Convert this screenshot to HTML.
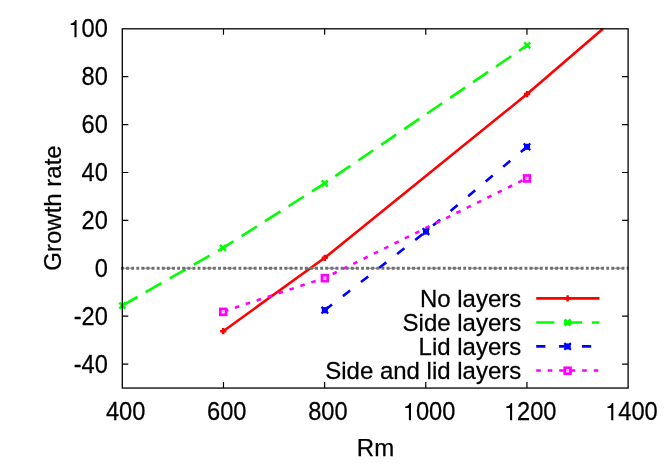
<!DOCTYPE html>
<html><head><meta charset="utf-8"><title>Growth rate vs Rm</title>
<style>
html,body{margin:0;padding:0;background:#fff;}
body{width:664px;height:465px;overflow:hidden;}
svg{display:block;will-change:transform;}
text{font-family:"Liberation Sans",sans-serif;font-size:24px;fill:#000;stroke:#000;stroke-width:0.25px;}
</style></head><body>
<svg width="664" height="465" viewBox="0 0 664 465">
<rect x="0" y="0" width="664" height="465" fill="#fff"/>
<path d="M223.46 28.8v6M223.46 388.05v-6M324.62 28.8v6M324.62 388.05v-6M425.78 28.8v6M425.78 388.05v-6M526.94 28.8v6M526.94 388.05v-6M122.3 364.10h6M628.1 364.10h-6M122.3 316.20h6M628.1 316.20h-6M122.3 220.40h6M628.1 220.40h-6M122.3 172.50h6M628.1 172.50h-6M122.3 124.60h6M628.1 124.60h-6M122.3 76.70h6M628.1 76.70h-6" stroke="#000" stroke-width="1.2" fill="none"/>
<polyline points="223.2,331.2 324.8,257.8 527.1,94.1 603.0,28.8" fill="none" stroke="#f00" stroke-width="2.6" stroke-linejoin="round"/>
<polyline points="122.3,305.6 223.0,247.9 324.7,183.3 527.2,45.3" fill="none" stroke="#0f0" stroke-width="2.6" stroke-dasharray="18.2 9.6" stroke-dashoffset="0.9"/>
<polyline points="324.8,310.2 425.9,231.6 527.0,146.8" fill="none" stroke="#00f" stroke-width="2.6" stroke-dasharray="9.2 13.7" stroke-dashoffset="0"/>
<polyline points="223.2,311.6 324.8,277.9 527.0,178.2" fill="none" stroke="#f0f" stroke-width="2.6" stroke-dasharray="4.6 6.9" stroke-dashoffset="10.7"/>
<path d="M220.1 331.2H226.3M223.2 328.1V334.3" stroke="#f00" stroke-width="2.5" fill="none"/>
<path d="M321.7 257.8H327.9M324.8 254.7V260.9" stroke="#f00" stroke-width="2.5" fill="none"/>
<path d="M524.0 94.1H530.2M527.1 91.0V97.2" stroke="#f00" stroke-width="2.5" fill="none"/>
<path d="M119.3 302.6L125.3 308.6M119.3 308.6L125.3 302.6" stroke="#0f0" stroke-width="2.5" fill="none"/>
<path d="M220.0 244.9L226.0 250.9M220.0 250.9L226.0 244.9" stroke="#0f0" stroke-width="2.5" fill="none"/>
<path d="M321.7 180.3L327.7 186.3M321.7 186.3L327.7 180.3" stroke="#0f0" stroke-width="2.5" fill="none"/>
<path d="M524.2 42.3L530.2 48.3M524.2 48.3L530.2 42.3" stroke="#0f0" stroke-width="2.5" fill="none"/>
<path d="M321.8 310.2H327.8M324.8 307.2V313.2" stroke="#00f" stroke-width="3.6" fill="none"/><path d="M321.5 306.9L328.1 313.5M321.5 313.5L328.1 306.9" stroke="#00f" stroke-width="2.2" fill="none"/><circle cx="324.8" cy="310.2" r="2.7" fill="#00f"/>
<path d="M422.9 231.6H428.9M425.9 228.6V234.6" stroke="#00f" stroke-width="3.6" fill="none"/><path d="M422.6 228.3L429.2 234.9M422.6 234.9L429.2 228.3" stroke="#00f" stroke-width="2.2" fill="none"/><circle cx="425.9" cy="231.6" r="2.7" fill="#00f"/>
<path d="M524.0 146.8H530.0M527.0 143.8V149.8" stroke="#00f" stroke-width="3.6" fill="none"/><path d="M523.7 143.5L530.3 150.1M523.7 150.1L530.3 143.5" stroke="#00f" stroke-width="2.2" fill="none"/><circle cx="527.0" cy="146.8" r="2.7" fill="#00f"/>
<rect x="220.35" y="308.90" width="5.7" height="5.9" stroke="#f0f" stroke-width="2.7" fill="#fff"/><rect x="222.2" y="311.1" width="2" height="1.2" fill="#f0f" opacity="0.5"/>
<rect x="321.95" y="275.20" width="5.7" height="5.9" stroke="#f0f" stroke-width="2.7" fill="#fff"/><rect x="323.8" y="277.4" width="2" height="1.2" fill="#f0f" opacity="0.5"/>
<rect x="524.15" y="175.50" width="5.7" height="5.9" stroke="#f0f" stroke-width="2.7" fill="#fff"/><rect x="526.0" y="177.7" width="2" height="1.2" fill="#f0f" opacity="0.5"/>
<line x1="120.8" y1="268.2" x2="628.1" y2="268.2" stroke="#808080" stroke-width="1" stroke-dasharray="12 8.43"/>
<line x1="120.8" y1="268.2" x2="628.1" y2="268.2" stroke="#6e6e6e" stroke-width="3" stroke-dasharray="2.85 2.258" stroke-dashoffset="4.89"/>
<rect x="122.3" y="28.8" width="505.80" height="359.25" fill="none" stroke="#000" stroke-width="1.3"/>
<text transform="translate(107.8,372.7) scale(0.985,1.045)" text-anchor="end">-40</text>
<text transform="translate(107.8,324.8) scale(0.985,1.045)" text-anchor="end">-20</text>
<text transform="translate(107.8,276.9) scale(0.985,1.045)" text-anchor="end">0</text>
<text transform="translate(107.8,229.0) scale(0.985,1.045)" text-anchor="end">20</text>
<text transform="translate(107.8,181.1) scale(0.985,1.045)" text-anchor="end">40</text>
<text transform="translate(107.8,133.2) scale(0.985,1.045)" text-anchor="end">60</text>
<text transform="translate(107.8,85.2) scale(0.985,1.045)" text-anchor="end">80</text>
<text transform="translate(107.8,37.4) scale(0.985,1.045)" text-anchor="end">100</text>
<rect x="68.56" y="17.85" width="12.45" height="21" fill="#fff"/><path transform="translate(68.36,37.35) scale(0.0236,-0.0243)" d="M259 0L259 505L102 505L102 568C184 578 262 603 290 709L347 709L347 0Z" fill="#000"/>
<text transform="translate(125.6,420.2) scale(0.985,1.045)" text-anchor="middle">400</text>
<text transform="translate(226.8,420.2) scale(0.985,1.045)" text-anchor="middle">600</text>
<text transform="translate(327.9,420.2) scale(0.985,1.045)" text-anchor="middle">800</text>
<text transform="translate(429.1,420.2) scale(0.985,1.045)" text-anchor="middle">1000</text>
<rect x="402.99" y="400.70" width="12.45" height="21" fill="#fff"/><path transform="translate(402.79,420.20) scale(0.0236,-0.0243)" d="M259 0L259 505L102 505L102 568C184 578 262 603 290 709L347 709L347 0Z" fill="#000"/>
<text transform="translate(530.2,420.2) scale(0.985,1.045)" text-anchor="middle">1200</text>
<rect x="504.15" y="400.70" width="12.45" height="21" fill="#fff"/><path transform="translate(503.95,420.20) scale(0.0236,-0.0243)" d="M259 0L259 505L102 505L102 568C184 578 262 603 290 709L347 709L347 0Z" fill="#000"/>
<text transform="translate(631.4,420.2) scale(0.985,1.045)" text-anchor="middle">1400</text>
<rect x="605.31" y="400.70" width="12.45" height="21" fill="#fff"/><path transform="translate(605.11,420.20) scale(0.0236,-0.0243)" d="M259 0L259 505L102 505L102 568C184 578 262 603 290 709L347 709L347 0Z" fill="#000"/>
<text transform="translate(375.5,455.7) scale(1.0,1.0)" text-anchor="middle">Rm</text>
<text transform="translate(60.8,208) rotate(-90) scale(1.0,1.03)" text-anchor="middle">Growth rate</text>
<text transform="translate(521.3,306.6) scale(1.0,1.03)" text-anchor="end">No layers</text>
<line x1="536.2" y1="298.4" x2="599.5" y2="298.4" stroke="#f00" stroke-width="2.6"/>
<path d="M564.5 298.4H570.7M567.6 295.3V301.5" stroke="#f00" stroke-width="2.5" fill="none"/>
<text transform="translate(521.3,330.7) scale(1.0,1.03)" text-anchor="end">Side layers</text>
<line x1="536.2" y1="322.5" x2="599.5" y2="322.5" stroke="#0f0" stroke-width="2.6" stroke-dasharray="18.2 9.6"/>
<path d="M564.6 319.5L570.6 325.5M564.6 325.5L570.6 319.5" stroke="#0f0" stroke-width="2.5" fill="none"/>
<text transform="translate(521.3,354.6) scale(1.0,1.03)" text-anchor="end">Lid layers</text>
<line x1="536.2" y1="346.4" x2="599.5" y2="346.4" stroke="#00f" stroke-width="2.6" stroke-dasharray="9.2 13.7"/>
<path d="M564.6 346.4H570.6M567.6 343.4V349.4" stroke="#00f" stroke-width="3.6" fill="none"/><path d="M564.3 343.1L570.9 349.7M564.3 349.7L570.9 343.1" stroke="#00f" stroke-width="2.2" fill="none"/><circle cx="567.6" cy="346.4" r="2.7" fill="#00f"/>
<text transform="translate(521.3,378.7) scale(1.0,1.03)" text-anchor="end">Side and lid layers</text>
<line x1="536.2" y1="370.5" x2="599.5" y2="370.5" stroke="#f0f" stroke-width="2.6" stroke-dasharray="4.6 6.9"/>
<rect x="564.75" y="367.80" width="5.7" height="5.9" stroke="#f0f" stroke-width="2.7" fill="#fff"/><rect x="566.6" y="370.0" width="2" height="1.2" fill="#f0f" opacity="0.5"/>
</svg></body></html>
